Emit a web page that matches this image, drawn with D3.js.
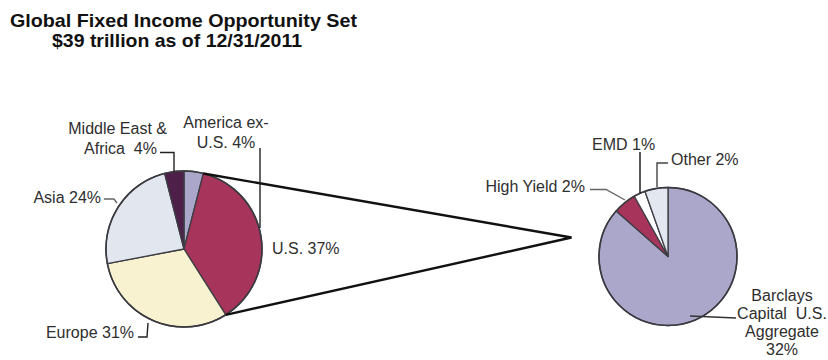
<!DOCTYPE html>
<html>
<head>
<meta charset="utf-8">
<script src="https://cdn.jsdelivr.net/npm/d3@7"></script>
<style>
  html, body { margin: 0; padding: 0; background: #fff; }
  svg { display: block; }
  text { font-family: "Liberation Sans", Arial, Helvetica, sans-serif; white-space: pre; }
</style>
</head>
<body>
<script>
// World fixed income market by region, share of total (%)
const regionNames  = ["America ex-U.S.", "U.S.", "Europe", "Asia", "Middle East & Africa"];
const regionShares = [4, 37, 31, 24, 4];

// Breakdown of the U.S. slice, share of total (%)
const usNames  = ["Barclays Capital U.S. Aggregate", "High Yield", "EMD", "Other"];
const usShares = [32, 2, 1, 2];

const titleLines = ["Global Fixed Income Opportunity Set", "$39 trillion as of 12/31/2011"];

const regionColors = ["#aaa7cb", "#a6345b", "#f8f2d0", "#e2e7ef", "#4e1f48"];
const usColors     = ["#aaa7cb", "#a6345b", "#ffffff", "#e3e8f0"];

const W = 828, H = 360;
const svg = d3.select("body").append("svg")
  .attr("width", W).attr("height", H)
  .attr("viewBox", [0, 0, W, H]);

// Title
const titleLayout = [
  { x: 10, y: 26.5, len: 347 },
  { x: 52, y: 46.5, len: 250 }
];
svg.append("g").selectAll("text")
  .data(titleLines)
  .join("text")
  .attr("x", (d, i) => titleLayout[i].x)
  .attr("y", (d, i) => titleLayout[i].y)
  .attr("textLength", (d, i) => titleLayout[i].len)
  .attr("lengthAdjust", "spacingAndGlyphs")
  .attr("font-size", 19)
  .attr("font-weight", "bold")
  .attr("fill", "#111")
  .text(d => d);

// Pie geometry
const left  = { cx: 184, cy: 249, r: 78 };
const right = { cx: 668, cy: 256.5, r: 69 };

const pie = d3.pie().sort(null).value(d => d.value).startAngle(0).endAngle(2 * Math.PI);

const regionArcs = pie(regionNames.map((n, i) => ({ name: n, value: regionShares[i] })));
const usArcs     = pie(usNames.map((n, i) => ({ name: n, value: usShares[i] })));

function drawPie(arcs, geo, colors) {
  const arc = d3.arc().innerRadius(0).outerRadius(geo.r);
  const g = svg.append("g").attr("transform", `translate(${geo.cx},${geo.cy})`);
  g.selectAll("path")
    .data(arcs)
    .join("path")
    .attr("d", arc)
    .attr("fill", (d, i) => colors[i])
    .attr("stroke", "#3d3d44")
    .attr("stroke-width", 1.3)
    .attr("stroke-linejoin", "round");
  g.append("circle")
    .attr("r", geo.r)
    .attr("fill", "none")
    .attr("stroke", "#3a3a40")
    .attr("stroke-width", 1.6);
  return g;
}

drawPie(regionArcs, left, regionColors);
drawPie(usArcs, right, usColors);

// Connector from the U.S. slice to the breakdown pie
const usArc = regionArcs[1];
const rimPoint = a => [left.cx + left.r * Math.sin(a), left.cy - left.r * Math.cos(a)];
const apex = [571.5, 237.5];
const p0 = rimPoint(usArc.startAngle), p1 = rimPoint(usArc.endAngle);
svg.append("path")
  .attr("d", d3.line()([p0, apex, p1]))
  .attr("fill", "none")
  .attr("stroke", "#111")
  .attr("stroke-width", 2.4)
  .attr("stroke-linejoin", "miter");

// Labels and leader lines
const pct = v => `${v}%`;
const regionLabels = [
  { lines: d => ["America ex-", `U.S. ${pct(d)}`], x: 226, y: 128, anchor: "middle",
    leader: [[260, 148], [260, 228]], lc: "#222" },
  { lines: d => [`U.S. ${pct(d)}`], x: 272, y: 253.5, anchor: "start" },
  { lines: d => [`Europe ${pct(d)}`], x: 134, y: 338, anchor: "end",
    leader: [[138, 337], [147, 337], [148, 323]], lc: "#222" },
  { lines: d => [`Asia ${pct(d)}`], x: 101, y: 202.5, anchor: "end",
    leader: [[104, 199], [114, 199], [117, 203]], lc: "#666" },
  { lines: d => ["Middle East &", `Africa  ${pct(d)}`], x: 167, y: 134, anchor: "end", dxs: [0, -10],
    leader: [[160, 152.5], [174, 152.5], [174, 172]], lc: "#222" }
];
const usLabels = [
  { lines: d => ["Barclays", "Capital  U.S.", "Aggregate", pct(d)], x: 782, y: 300.5, anchor: "middle", lh: 18.3,
    leader: [[690, 316], [736, 318]], lc: "#333" },
  { lines: d => [`High Yield ${pct(d)}`], x: 585, y: 192, anchor: "end",
    leader: [[590, 189.5], [606, 189.5], [625, 200]], lc: "#666" },
  { lines: d => [`EMD ${pct(d)}`], x: 592, y: 149.5, anchor: "start",
    leader: [[640, 152], [640, 193]], lc: "#111" },
  { lines: d => [`Other ${pct(d)}`], x: 671, y: 164.5, anchor: "start",
    leader: [[668, 163], [657, 163], [657, 187]], lc: "#444" }
];

function drawLabels(values, layout) {
  const g = svg.append("g");
  layout.forEach((L, i) => {
    if (L.leader) {
      g.append("path")
        .attr("d", d3.line()(L.leader))
        .attr("fill", "none")
        .attr("stroke", L.lc)
        .attr("stroke-width", 1.4);
    }
    const lh = L.lh || 20;
    const t = g.append("text")
      .attr("font-size", 16)
      .attr("fill", "#2e2e2e")
      .attr("text-anchor", L.anchor);
    L.lines(values[i]).forEach((s, j) => {
      t.append("tspan")
        .attr("x", L.x + (L.dxs ? L.dxs[j] : 0))
        .attr("y", L.y + j * lh)
        .text(s);
    });
  });
}

drawLabels(regionShares, regionLabels);
drawLabels(usShares, usLabels);
</script>
</body>
</html>
